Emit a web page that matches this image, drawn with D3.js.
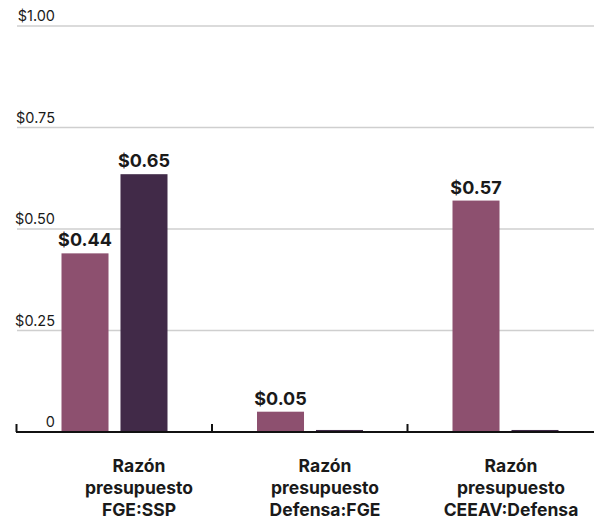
<!DOCTYPE html>
<html>
  <head>
    <meta charset="UTF-8" />
    <title>Razón presupuesto</title>
    <style>
      body,
      html {
        margin: 0;
        padding: 0;
        overflow: hidden;
        background: #fff;
      }
      svg text {
        font-family: "Inter", "Roboto", sans-serif;
        fill: #1a1a1a;
      }
      .grid {
        stroke: #cfcfcf;
        stroke-width: 1.5px;
      }
      .tick-label {
        font-size: 14.5px;
      }
      .value-label {
        font-size: 18px;
        font-weight: bold;
      }
      .cat-label {
        font-size: 17.5px;
        font-weight: bold;
      }
    </style>
  </head>
  <body>
    <svg id="chart"></svg>
    <script src="https://d3js.org/d3.v7.min.js"></script>
    <script>
      const width = 594;
      const height = 519;

      // data
      const categories = ["FGE:SSP", "Defensa:FGE", "CEEAV:Defensa"];
      const seriesA = [0.44, 0.05, 0.57];
      const seriesB = [0.635, 0.005, 0.005];
      const labelsA = ["$0.44", "$0.05", "$0.57"];
      const labelsB = ["$0.65", null, null];
      const yTicks = [0, 0.25, 0.5, 0.75, 1];
      const yTickLabels = ["0", "$0.25", "$0.50", "$0.75", "$1.00"];
      const colors = ["#8d506f", "#412a48"];

      const svg = d3.select("#chart").attr("width", width).attr("height", height);

      const y = d3.scaleLinear().domain([0, 1]).range([432, 26]);

      const x0 = d3.scaleBand().domain(categories).range([16.5, 603]);
      const x1 = d3
        .scaleBand()
        .domain([0, 1])
        .range([45, 151])
        .paddingInner(0.203);

      // labels below are shifted vs. the bar groups in the original
      const xLabel = d3.scaleBand().domain(categories).range([46, 604]);

      // gridlines
      svg
        .selectAll(".grid")
        .data(yTicks.slice(1))
        .enter()
        .append("line")
        .attr("class", "grid")
        .attr("x1", 17)
        .attr("x2", width + 10)
        .attr("y1", (d) => y(d))
        .attr("y2", (d) => y(d));

      svg
        .selectAll(".tick-label")
        .data(yTicks)
        .enter()
        .append("text")
        .attr("class", "tick-label")
        .attr("x", 55)
        .attr("y", (d) => y(d) - 5)
        .attr("text-anchor", "end")
        .text((d, i) => yTickLabels[i]);

      const rows = categories.map((c, i) => ({
        cat: c,
        vals: [
          { k: 0, v: seriesA[i], label: labelsA[i] },
          { k: 1, v: seriesB[i], label: labelsB[i] },
        ],
      }));

      const groups = svg
        .selectAll(".group")
        .data(rows)
        .enter()
        .append("g")
        .attr("class", "group")
        .attr("transform", (d) => `translate(${x0(d.cat)},0)`);

      groups
        .selectAll("rect")
        .data((d) => d.vals)
        .enter()
        .append("rect")
        .attr("x", (d) => x1(d.k))
        .attr("width", x1.bandwidth())
        .attr("y", (d) => y(d.v))
        .attr("height", (d) => y(0) - y(d.v))
        .style("fill", (d) => colors[d.k]);

      groups
        .selectAll(".value-label")
        .data((d) => d.vals.filter((v) => v.label))
        .enter()
        .append("text")
        .attr("class", "value-label")
        .attr("x", (d) => x1(d.k) + x1.bandwidth() / 2)
        .attr("y", (d) => y(d.v) - 7)
        .attr("text-anchor", "middle")
        .text((d) => d.label);

      // baseline axis
      svg
        .append("line")
        .attr("x1", 16)
        .attr("x2", width + 10)
        .attr("y1", y(0))
        .attr("y2", y(0))
        .attr("stroke", "#111")
        .attr("stroke-width", 2);

      svg
        .selectAll(".xtick")
        .data(categories)
        .enter()
        .append("line")
        .attr("class", "xtick")
        .attr("x1", (d) => x0(d))
        .attr("x2", (d) => x0(d))
        .attr("y1", y(0) - 8)
        .attr("y2", y(0))
        .attr("stroke", "#111")
        .attr("stroke-width", 2);

      const cat = svg
        .selectAll(".cat-label")
        .data(categories)
        .enter()
        .append("text")
        .attr("class", "cat-label")
        .attr("text-anchor", "middle")
        .attr("x", (d) => xLabel(d) + xLabel.bandwidth() / 2);

      cat
        .selectAll("tspan")
        .data((d) => ["Razón", "presupuesto", d])
        .enter()
        .append("tspan")
        .attr("x", function () {
          return this.parentNode.getAttribute("x");
        })
        .attr("y", (d, i) => 472 + i * 22)
        .text((d) => d);
    </script>
  </body>
</html>
